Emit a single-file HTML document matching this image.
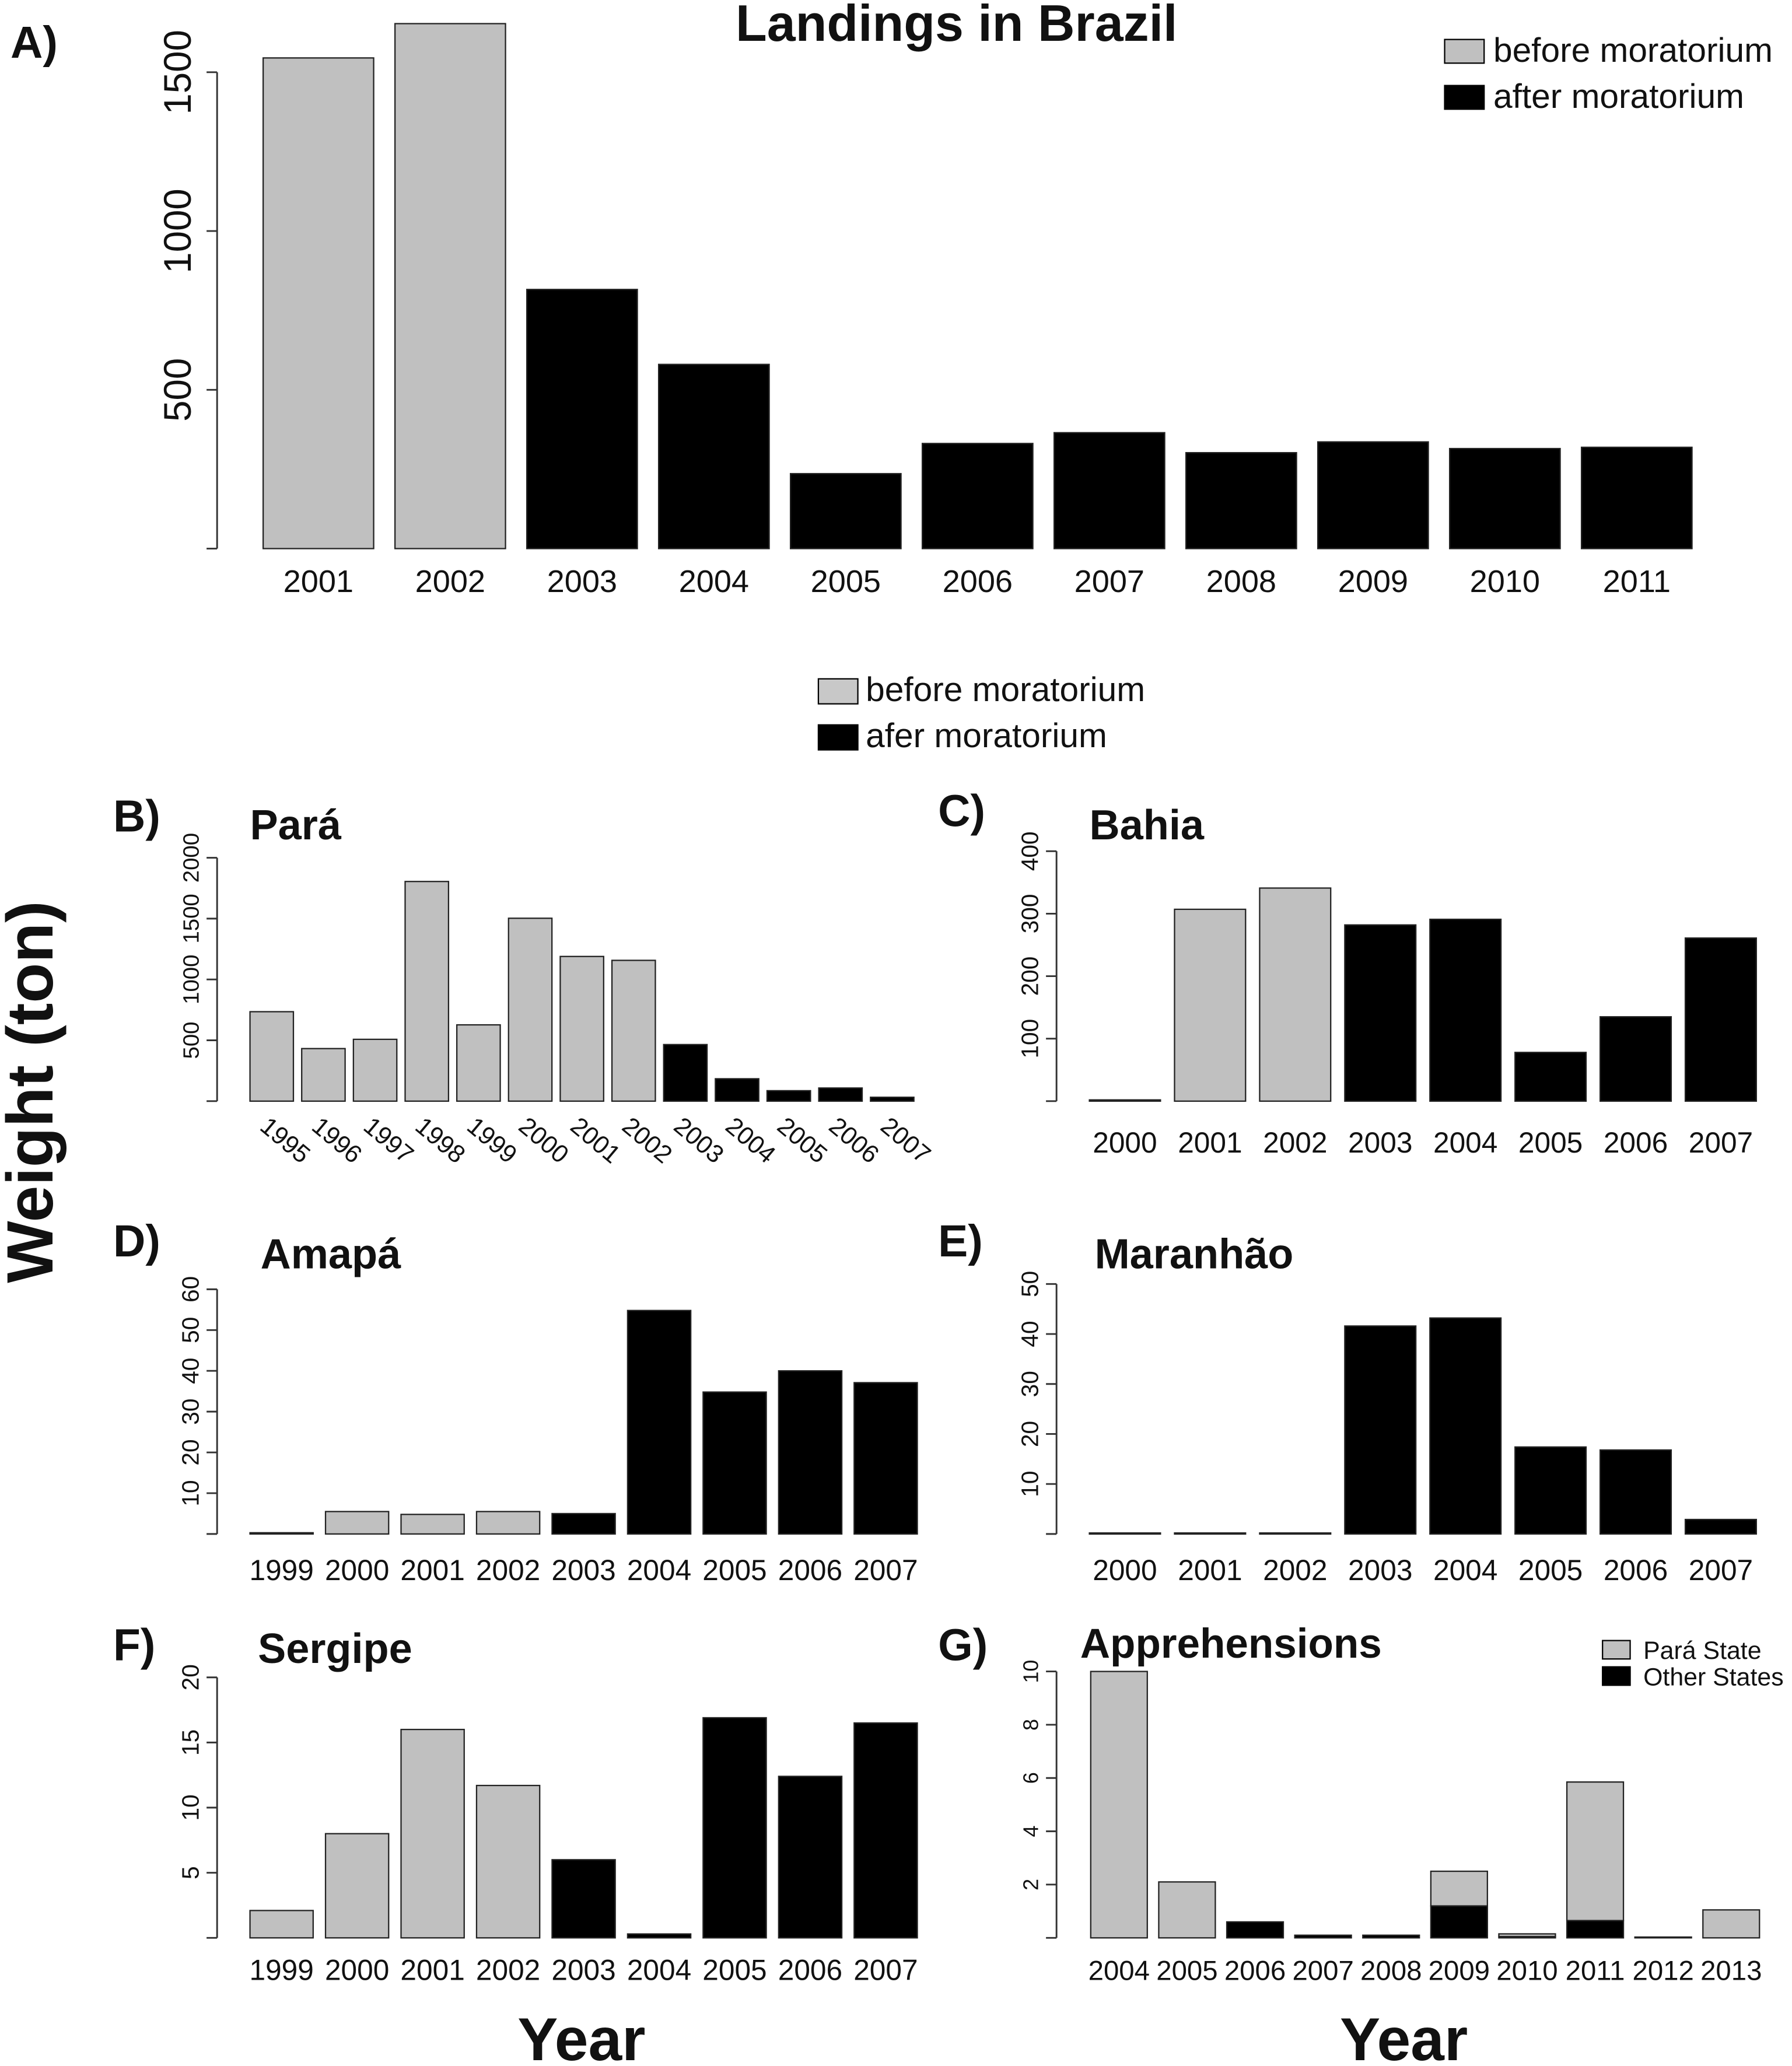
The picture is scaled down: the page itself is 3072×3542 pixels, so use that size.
<!DOCTYPE html>
<html><head><meta charset="utf-8"><style>
html,body{margin:0;padding:0;background:#fff}
svg{display:block}
text{font-family:"Liberation Sans",sans-serif;fill:#111}
</style></head><body>
<svg id="fig" xmlns="http://www.w3.org/2000/svg" width="3072" height="3542" viewBox="0 0 1362 1570.4">
<rect width="1362" height="1570.4" fill="#fff"/>
<text x="0" y="0" transform="translate(40,830) rotate(-90)" text-anchor="middle" font-size="50" font-weight="bold">Weight (ton)</text>
<text x="442" y="1566" text-anchor="middle" font-size="46" font-weight="bold">Year</text>
<text x="1067" y="1566" text-anchor="middle" font-size="46" font-weight="bold">Year</text>
<g>
<rect x="622" y="516" width="30" height="19" fill="#c8c8c8" stroke="#000"/>
<text x="658" y="533" font-size="26">before moratorium</text>
<rect x="622" y="551" width="30" height="19" fill="#000" stroke="#000"/>
<text x="658" y="568" font-size="26">afer moratorium</text>
</g>
</svg>
<script>
// Panel A
const aYears=["2001","2002","2003","2004","2005","2006","2007","2008","2009","2010","2011"];
const aValues=[1545,1653,816,580,236,331,365,302,336,315,319];
const aAfter=[0,0,1,1,1,1,1,1,1,1,1];
const aTicks=[500,1000,1500];
// Panel B Pará
const bYears=["1995","1996","1997","1998","1999","2000","2001","2002","2003","2004","2005","2006","2007"];
const bValues=[735,432,508,1805,627,1503,1189,1157,465,184,86,108,32];
const bAfter=[0,0,0,0,0,0,0,0,1,1,1,1,1];
const bTicks=[500,1000,1500,2000];
// Panel C Bahia
const cYears=["2000","2001","2002","2003","2004","2005","2006","2007"];
const cValues=[2,307,341,282,291,78,135,261];
const cAfter=[0,0,0,1,1,1,1,1];
const cTicks=[100,200,300,400];
// Panel D Amapá
const dYears=["1999","2000","2001","2002","2003","2004","2005","2006","2007"];
const dValues=[0.3,5.5,4.8,5.5,5,54.8,34.8,40,37.1];
const dAfter=[0,0,0,0,1,1,1,1,1];
const dTicks=[10,20,30,40,50,60];
// Panel E Maranhão
const eYears=["2000","2001","2002","2003","2004","2005","2006","2007"];
const eValues=[0.2,0.2,0.2,41.6,43.2,17.4,16.8,2.9];
const eAfter=[0,0,0,1,1,1,1,1];
const eTicks=[10,20,30,40,50];
// Panel F Sergipe
const fYears=["1999","2000","2001","2002","2003","2004","2005","2006","2007"];
const fValues=[2.1,8,16,11.7,6,0.3,16.9,12.4,16.5];
const fAfter=[0,0,0,0,1,1,1,1,1];
const fTicks=[5,10,15,20];
// Panel G Apprehensions (stacked)
const gYears=["2004","2005","2006","2007","2008","2009","2010","2011","2012","2013"];
const gOther=[0,0,0.6,0.1,0.1,1.2,0.05,0.65,0,0];
const gPara=[10,2.1,0,0,0,1.3,0.1,5.2,0.03,1.05];
const gTicks=[2,4,6,8,10];

const NS="http://www.w3.org/2000/svg";
const svg=document.getElementById('fig');
const GRAY="#c0c0c0";
function mk(tag,attrs,parent){const e=document.createElementNS(NS,tag);for(const k in attrs)e.setAttribute(k,attrs[k]);(parent||svg).appendChild(e);return e;}

function panel(o){
  const g=mk('g',{});
  
  
  const y=v=>o.y0-v*o.pxPer;
  const x=i=>o.x0+i*o.pitch;
  const ax=mk('line',{x1:o.axX,x2:o.axX,y1:o.y0,y2:y(o.ticks[o.ticks.length-1]),stroke:'#333','stroke-width':1.3},g);
  
  
  const allT=[0].concat(o.ticks);
  allT.forEach((t,i)=>{
    const tk=mk('line',{x1:o.axX-8,x2:o.axX,y1:y(t),y2:y(t),stroke:'#333','stroke-width':1.3},g);
    
    
    if(i>0){
      const tx=mk('text',{transform:`translate(${o.axX-o.tickOff},${y(t)}) rotate(-90)`,'text-anchor':'middle','font-size':o.tickFs},g);
      tx.textContent=t;
      
      
    }
  });
  o.years.forEach((yr,i)=>{
    if(o.stackB){
      const b=o.stackB[i], tp=o.values[i];
      if(b>0){const r=mk('rect',{x:x(i),y:y(b),width:o.bw,height:b*o.pxPer,fill:'#000',stroke:'#222','stroke-width':1},g);
        
        }
      if(tp>0){const r=mk('rect',{x:x(i),y:y(b+tp),width:o.bw,height:tp*o.pxPer,fill:GRAY,stroke:'#222','stroke-width':1},g);
        
        }
    } else {
      const v=o.values[i];
      const r=mk('rect',{x:x(i),y:y(v),width:o.bw,height:Math.max(v*o.pxPer,0.8),fill:o.after[i]?'#000':GRAY,stroke:'#222','stroke-width':1},g);
      
      
    }
    const cx=x(i)+o.bw/2;
    const lt=o.rotLabels?mk('text',{transform:`translate(${cx-10},${o.labY}) rotate(40)`,'font-size':o.labFs},g)
      :mk('text',{x:cx,y:o.labY,'text-anchor':'middle','font-size':o.labFs,'font-family':o.narrow?'"Liberation Sans Narrow","Liberation Sans",sans-serif':'"Liberation Sans",sans-serif'},g);
    lt.textContent=yr;
    
    
  });
  const tt=mk('text',{x:o.titleX,y:o.titleY,'font-size':o.titleFs,'font-weight':'bold','text-anchor':o.titleAnchor||'start'},g);
  tt.textContent=o.title;
  
  
  const pl=mk('text',{x:o.letX,y:o.letY,'font-size':34,'font-weight':'bold'},g);
  pl.textContent=o.letter;
  
  
  return g;
}

panel({name:'panel-a-brazil',years:aYears,values:aValues,after:aAfter,ticks:aTicks,axX:165,y0:417,pxPer:120.7/500,x0:200,pitch:100.2,bw:84,tickOff:20,tickFs:29,labY:450,labFs:24,title:'Landings in Brazil',titleX:727,titleY:31,titleFs:39,titleAnchor:'middle',letter:'A)',letX:8,letY:44});
panel({name:'panel-b-para',years:bYears,values:bValues,after:bAfter,ticks:bTicks,axX:165,y0:837,pxPer:185/2000,x0:190,pitch:39.3,bw:33,tickOff:14,tickFs:17,labY:858,labFs:19,rotLabels:true,title:'Pará',titleX:190,titleY:638,titleFs:32,letter:'B)',letX:86,letY:632});
panel({name:'panel-c-bahia',years:cYears,values:cValues,after:cAfter,ticks:cTicks,axX:803,y0:837,pxPer:47.5/100,x0:828,pitch:64.7,bw:54,tickOff:14,tickFs:18,labY:876,labFs:22,title:'Bahia',titleX:828,titleY:638,titleFs:32,letter:'C)',letX:713,letY:628});
panel({name:'panel-d-amapa',years:dYears,values:dValues,after:dAfter,ticks:dTicks,axX:165,y0:1166,pxPer:31/10,x0:190,pitch:57.4,bw:48,tickOff:14,tickFs:18,labY:1201,labFs:22,narrow:true,title:'Amapá',titleX:198,titleY:964,titleFs:32,letter:'D)',letX:86,letY:955});
panel({name:'panel-e-maranhao',years:eYears,values:eValues,after:eAfter,ticks:eTicks,axX:803,y0:1166,pxPer:38/10,x0:828,pitch:64.7,bw:54,tickOff:14,tickFs:18,labY:1201,labFs:22,title:'Maranhão',titleX:832,titleY:964,titleFs:32,letter:'E)',letX:713,letY:955});
panel({name:'panel-f-sergipe',years:fYears,values:fValues,after:fAfter,ticks:fTicks,axX:165,y0:1473,pxPer:49.5/5,x0:190,pitch:57.4,bw:48,tickOff:14,tickFs:18,labY:1505,labFs:22,narrow:true,title:'Sergipe',titleX:196,titleY:1264,titleFs:32,letter:'F)',letX:86,letY:1262});
panel({name:'panel-g-apprehensions',years:gYears,values:gPara,stackB:gOther,ticks:gTicks,axX:803,y0:1473,pxPer:40.5/2,x0:829,pitch:51.7,bw:43,tickOff:14,tickFs:16,labY:1505,labFs:21,narrow:true,title:'Apprehensions',titleX:821,titleY:1260,titleFs:31.5,letter:'G)',letX:713,letY:1262});

const lgA=mk('g',{});


[['before moratorium',GRAY,30],['after moratorium','#000',65]].forEach(d=>{
  const r=mk('rect',{x:1098,y:d[2],width:30,height:18,fill:d[1],stroke:'#000'},lgA);
  
  
  const t=mk('text',{x:1135,y:d[2]+17,'font-size':26},lgA);
  t.textContent=d[0];
  
  
});
const lgG=mk('g',{});


[['Pará State',GRAY,1247],['Other States','#000',1267]].forEach(d=>{
  const r=mk('rect',{x:1218,y:d[2],width:21,height:14,fill:d[1],stroke:'#000'},lgG);
  
  
  const t=mk('text',{x:1249,y:d[2]+14,'font-size':19,'font-family':'"Liberation Sans Narrow","Liberation Sans",sans-serif'},lgG);
  t.textContent=d[0];
  
  
});
</script>
</body></html>
